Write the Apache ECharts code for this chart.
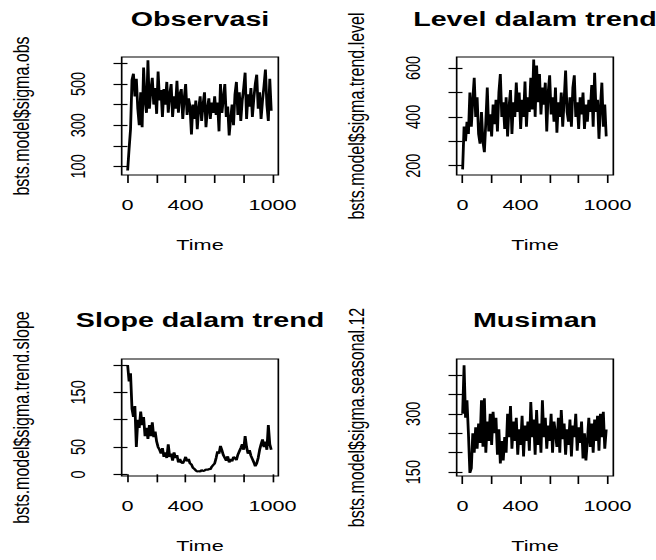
<!DOCTYPE html>
<html>
<head>
<meta charset="utf-8">
<title>bsts sigma traces</title>
<script src="https://cdn.jsdelivr.net/npm/echarts@6/dist/echarts.min.js"></script>
<style>
  html, body { margin: 0; padding: 0; background: #fff; overflow: hidden; }
  /* the reference picture is stretched sideways, so the chart is drawn narrow and widened */
  #chart { width: 469px; height: 560px; transform: scaleX(1.3987); transform-origin: 0 0; }
</style>
</head>
<body>
<div id="chart"></div>
<script>
// draws of each sigma, one value every 10 iterations
var obs = [80, 185, 280, 520, 550, 440, 525, 380, 300, 460,
  290, 580, 420, 360, 615, 380, 470, 530, 400, 480,
  355, 560, 420, 470, 340, 475, 400, 510, 360, 450,
  500, 340, 440, 380, 515, 360, 450, 475, 330, 430,
  500, 350, 430, 390, 255, 400, 330, 420, 280, 380,
  440, 320, 400, 460, 290, 380, 430, 330, 410, 360,
  440, 350, 410, 270, 500, 360, 430, 500, 340, 390,
  250, 330, 400, 300, 450, 510, 350, 460, 320, 420,
  480, 555, 330, 450, 390, 480, 340, 430, 500, 545,
  380, 460, 330, 420, 490, 570, 400, 320, 525, 370];

var level = [185, 360, 300, 380, 330, 500, 360, 470, 560, 400,
  480, 330, 290, 420, 300, 255, 380, 520, 340, 410,
  320, 450, 370, 470, 340, 500, 575, 400, 460, 350,
  480, 320, 440, 510, 330, 460, 400, 540, 420, 500,
  350, 470, 400, 545, 360, 480, 420, 560, 430, 635,
  400, 610, 460, 575, 410, 520, 450, 540, 340, 500,
  570, 410, 480, 380, 520, 335, 460, 400, 500, 360,
  470, 590, 420, 380, 480, 360, 520, 570, 400, 460,
  350, 480, 410, 500, 350, 450, 380, 470, 420, 530,
  360, 580, 420, 470, 310, 440, 540, 360, 450, 320];

var slope = [200, 170, 185, 120, 105, 125, 50, 100, 85, 115,
  90, 105, 70, 85, 65, 90, 70, 95, 68, 78,
  60, 50, 45, 38, 48, 32, 40, 30, 55, 32,
  38, 25, 40, 30, 35, 22, 28, 22, 20, 25,
  32, 24, 28, 20, 18, 12, 10, 7, 5, 6,
  5, 8, 6, 7, 9, 8, 10, 9, 14, 17,
  20, 30, 42, 38, 52, 44, 35, 30, 25, 33,
  22, 28, 24, 32, 30, 26, 36, 42, 48, 55,
  45, 70, 50, 38, 44, 34, 28, 22, 15, 20,
  30, 45, 55, 64, 50, 60, 45, 90, 55, 45];

var seasonal = [300, 425, 290, 335, 250, 148, 160, 250, 200, 265,
  210, 275, 225, 335, 215, 340, 200, 280, 230, 300,
  220, 305, 250, 290, 195, 260, 172, 230, 180, 240,
  200, 300, 240, 320, 210, 280, 230, 290, 195, 260,
  220, 295, 190, 270, 230, 280, 205, 330, 240, 285,
  195, 310, 220, 275, 200, 335, 240, 290, 210, 270,
  230, 300, 200, 280, 250, 215, 290, 200, 310, 235,
  275, 195, 260, 220, 285, 190, 270, 240, 300, 205,
  265, 225, 280, 185, 250, 180, 230, 290, 215, 275,
  200, 285, 230, 295, 205, 300, 240, 305, 210, 260];

var titles = ['Observasi', 'Level dalam trend', 'Slope dalam trend', 'Musiman'];
var yNames = ['bsts.model$sigma.obs', 'bsts.model$sigma.trend.level',
  'bsts.model$sigma.trend.slope', 'bsts.model$sigma.seasonal.12'];
var yTicks = [[100, 200, 300, 400, 500, 600], [200, 300, 400, 500, 600],
  [0, 50, 100, 150, 200], [150, 200, 250, 300, 350, 400]];
var yLabels = [[100, 300, 500], [200, 400, 600], [0, 50, 150], [150, 300]];
var yRange = [[58, 631], [162, 645], [-3, 211], [140, 441]];
var xTicks = [0, 200, 400, 600, 800, 1000];
var xLabels = [0, 400, 1000];

var traces = [obs, level, slope, seasonal];
var font = '"Liberation Sans", Arial, sans-serif';

var boxes = [
  {left: 87, top: 57, width: 112, height: 118},
  {left: 326.5, top: 57, width: 112, height: 118},
  {left: 87, top: 359, width: 112, height: 117},
  {left: 326.5, top: 359, width: 112, height: 117}
];

function plain(v) { return String(v); }

var grid = [], xAxis = [], yAxis = [], series = [], title = [];
boxes.forEach(function (b, k) {
  grid.push({left: b.left, top: b.top, width: b.width, height: b.height,
    show: true, borderColor: '#000', borderWidth: 1.2, backgroundColor: 'transparent'});
  title.push({
    text: titles[k], left: b.left + b.width / 2, top: k < 2 ? 8 : 309,
    textAlign: 'center', padding: 0,
    textStyle: {fontFamily: font, fontWeight: 'bold', fontSize: 20.5, color: '#000'}
  });
  xAxis.push({
    type: 'value', gridIndex: k, min: -40, max: 1040,
    axisLine: {show: false}, splitLine: {show: false},
    axisTick: {show: true, customValues: xTicks, length: 8, lineStyle: {color: '#000', width: 1.2}},
    axisLabel: {customValues: xLabels, formatter: plain, margin: 22, fontSize: 15.5, color: '#000', fontFamily: font},
    name: 'Time', nameLocation: 'middle', nameGap: 62,
    nameTextStyle: {fontSize: 15.5, color: '#000', fontFamily: font}
  });
  yAxis.push({
    type: 'value', gridIndex: k, min: yRange[k][0], max: yRange[k][1],
    axisLine: {show: false}, splitLine: {show: false},
    axisTick: {show: true, customValues: yTicks[k], length: 10, lineStyle: {color: '#000', width: 1.2}},
    axisLabel: {customValues: yLabels[k], formatter: plain, rotate: 90, margin: 24, fontSize: 14.5, color: '#000', fontFamily: font},
    name: yNames[k], nameLocation: 'middle', nameGap: 64,
    nameTextStyle: {fontSize: 16, color: '#000', fontFamily: font}
  });
  series.push({
    type: 'line', xAxisIndex: k, yAxisIndex: k, showSymbol: false,
    lineStyle: {color: '#000', width: 2},
    data: traces[k].map(function (v, i) { return [1 + i * 10, v]; })
  });
});

var myChart = echarts.init(document.getElementById('chart'), null, {renderer: 'svg'});
var option = {
  backgroundColor: '#fff',
  animation: false,
  title: title,
  grid: grid,
  xAxis: xAxis,
  yAxis: yAxis,
  series: series
};
myChart.setOption(option);
</script>
</body>
</html>
